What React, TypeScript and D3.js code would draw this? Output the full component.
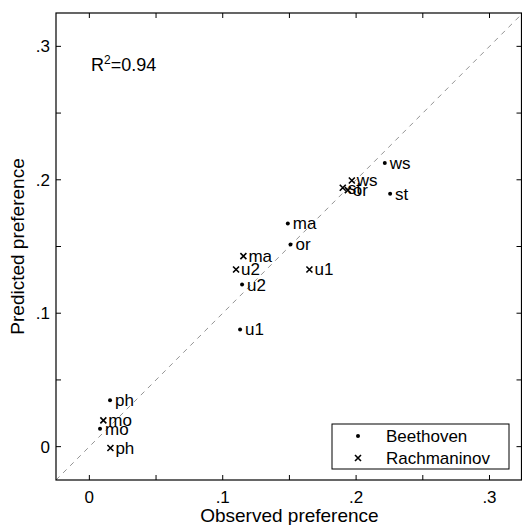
import React, { useRef, useEffect } from "react";
import * as d3 from "d3";

// piece labels, Beethoven (dots) and Rachmaninov (crosses)
const beethovenLabels = ["ws", "st", "ma", "or", "u2", "u1", "ph", "mo"];
const beethovenObserved = [0.2215, 0.2255, 0.1488, 0.1508, 0.1145, 0.113, 0.0155, 0.008];
const beethovenPredicted = [0.2125, 0.1896, 0.1673, 0.1515, 0.1215, 0.0878, 0.0347, 0.0135];

const rachLabels = ["ws", "st", "or", "ma", "u2", "u1", "mo", "ph"];
const rachObserved = [0.1968, 0.19, 0.1938, 0.1155, 0.11, 0.165, 0.0105, 0.0158];
const rachPredicted = [0.1995, 0.194, 0.1923, 0.1428, 0.1328, 0.1328, 0.0197, -0.001];

const tickValues = [0, 0.05, 0.1, 0.15, 0.2, 0.25, 0.3];
const tickLabels = ["0", "", ".1", "", ".2", "", ".3"];
const legendNames = ["Beethoven", "Rachmaninov"];

const App = () => {
  const ref = useRef<SVGSVGElement>(null);

  useEffect(() => {
    const width = 522;
    const height = 525;
    const left = 56;
    const top = 13;
    const right = 521.5;
    const bottom = 480;
    const font = "'Liberation Sans', Arial, sans-serif";

    const x = d3.scaleLinear().domain([-0.025, 0.324]).range([left, right]);
    const y = d3.scaleLinear().domain([-0.025, 0.325]).range([bottom, top]);

    const svg = d3.select(ref.current).attr("width", width).attr("height", height);
    svg.selectAll("*").remove();

    // diagonal y = x
    svg
      .append("line")
      .attr("x1", x(-0.025))
      .attr("y1", y(-0.025))
      .attr("x2", x(0.324))
      .attr("y2", y(0.324))
      .attr("stroke", "#777")
      .attr("stroke-width", 0.8)
      .attr("stroke-dasharray", "5,5");

    // frame
    svg
      .append("rect")
      .attr("x", left)
      .attr("y", top)
      .attr("width", right - left)
      .attr("height", bottom - top)
      .attr("fill", "none")
      .attr("stroke", "#000")
      .attr("stroke-width", 1.2);

    const tl = 5;
    const g = svg.append("g").attr("stroke", "#000").attr("stroke-width", 1);
    tickValues.forEach((v) => {
      g.append("line").attr("x1", x(v)).attr("x2", x(v)).attr("y1", bottom).attr("y2", bottom - tl);
      g.append("line").attr("x1", x(v)).attr("x2", x(v)).attr("y1", top).attr("y2", top + tl);
      g.append("line").attr("x1", left).attr("x2", left + tl).attr("y1", y(v)).attr("y2", y(v));
      g.append("line").attr("x1", right).attr("x2", right - tl).attr("y1", y(v)).attr("y2", y(v));
    });

    tickValues.forEach((v, i) => {
      if (!tickLabels[i]) return;
      svg
        .append("text")
        .attr("x", x(v))
        .attr("y", bottom + 23)
        .attr("text-anchor", "middle")
        .style("font-family", font)
        .style("font-size", "17px")
        .text(tickLabels[i]);
      svg
        .append("text")
        .attr("x", left - 6)
        .attr("y", y(v) + 6)
        .attr("text-anchor", "end")
        .style("font-family", font)
        .style("font-size", "17px")
        .text(tickLabels[i]);
    });

    svg
      .append("text")
      .attr("x", x(0.15))
      .attr("y", 522)
      .attr("text-anchor", "middle")
      .style("font-family", font)
      .style("font-size", "19px")
      .text("Observed preference");

    svg
      .append("text")
      .attr("transform", `translate(24, ${y(0.15)}) rotate(-90)`)
      .attr("text-anchor", "middle")
      .style("font-family", font)
      .style("font-size", "19px")
      .text("Predicted preference");

    const r2 = svg
      .append("text")
      .attr("x", 91)
      .attr("y", 71)
      .style("font-family", font)
      .style("font-size", "18px");
    r2.append("tspan").text("R");
    r2.append("tspan").attr("dy", -7).style("font-size", "12px").text("2");
    r2.append("tspan").attr("dy", 7).text("=0.94");

    const cross = (gx: number, gy: number, s = 3) => {
      const p = d3.path();
      p.moveTo(gx - s, gy - s);
      p.lineTo(gx + s, gy + s);
      p.moveTo(gx - s, gy + s);
      p.lineTo(gx + s, gy - s);
      return p.toString();
    };

    const label = (px: number, py: number, t: string) =>
      svg
        .append("text")
        .attr("x", px + 5)
        .attr("y", py + 6)
        .style("font-family", font)
        .style("font-size", "17px")
        .text(t);

    beethovenLabels.forEach((t, i) => {
      const px = x(beethovenObserved[i]);
      const py = y(beethovenPredicted[i]);
      svg.append("circle").attr("cx", px).attr("cy", py).attr("r", 2).attr("fill", "#000");
      label(px, py, t);
    });

    rachLabels.forEach((t, i) => {
      const px = x(rachObserved[i]);
      const py = y(rachPredicted[i]);
      svg
        .append("path")
        .attr("d", cross(px, py))
        .attr("stroke", "#000")
        .attr("stroke-width", 1.6);
      label(px, py, t);
    });

    // legend
    const lg = svg.append("g");
    lg.append("rect")
      .attr("x", 332)
      .attr("y", 424)
      .attr("width", 177)
      .attr("height", 45)
      .attr("fill", "#fff")
      .attr("stroke", "#000")
      .attr("stroke-width", 1);
    legendNames.forEach((n, i) => {
      const ly = 436 + i * 22;
      if (i === 0) {
        lg.append("circle").attr("cx", 358).attr("cy", ly).attr("r", 2).attr("fill", "#000");
      } else {
        lg.append("path").attr("d", cross(358, ly)).attr("stroke", "#000").attr("stroke-width", 1.6);
      }
      lg.append("text")
        .attr("x", 386)
        .attr("y", ly + 6)
        .style("font-family", font)
        .style("font-size", "17px")
        .text(n);
    });
  }, []);

  return (
    <div style={{ position: "absolute", left: 0, top: 0 }}>
      <svg ref={ref} style={{ display: "block" }}></svg>
    </div>
  );
};

export default App;
